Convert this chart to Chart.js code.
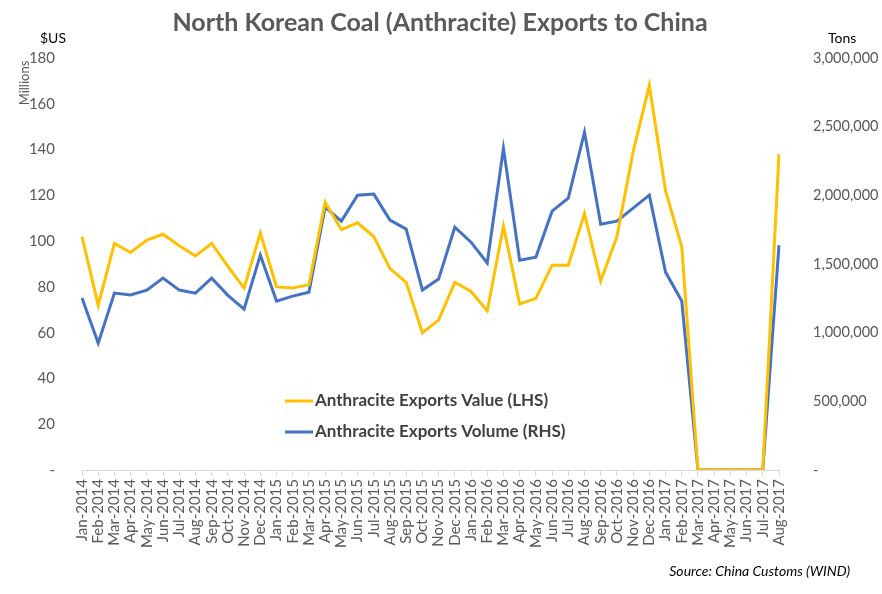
<!DOCTYPE html>
<html><head><meta charset="utf-8">
<script src="https://cdn.jsdelivr.net/npm/chart.js@4.4.0/dist/chart.umd.min.js"></script>
<style>html,body{margin:0;padding:0;background:#fff}#wrap{width:882px;height:594px;position:relative}</style>
</head><body><div id="wrap"><canvas id="c" width="882" height="594"></canvas></div>
<script>
const categories = ["Jan-2014","Feb-2014","Mar-2014","Apr-2014","May-2014","Jun-2014","Jul-2014","Aug-2014","Sep-2014","Oct-2014","Nov-2014","Dec-2014",
"Jan-2015","Feb-2015","Mar-2015","Apr-2015","May-2015","Jun-2015","Jul-2015","Aug-2015","Sep-2015","Oct-2015","Nov-2015","Dec-2015",
"Jan-2016","Feb-2016","Mar-2016","Apr-2016","May-2016","Jun-2016","Jul-2016","Aug-2016","Sep-2016","Oct-2016","Nov-2016","Dec-2016",
"Jan-2017","Feb-2017","Mar-2017","Apr-2017","May-2017","Jun-2017","Jul-2017","Aug-2017"];
const valueLHS = [102,72,99,95,100.5,103,98,93.5,99,89,79.5,103.5,
80,79.5,81,117,105,108,102,88,82,60,65.5,82,
78,69.5,106.5,72.5,75,89.5,89.5,112,82.5,102,139,168,
122,97.5,0,0,0,0,0,138];
const volumeRHS = [1252000,924000,1288000,1274000,1310000,1397000,1310000,1288000,1397000,1272000,1172000,1565000,
1230000,1266000,1295000,1914000,1812000,2001000,2009000,1820000,1754000,1310000,1390000,1768000,
1659000,1507000,2343000,1528000,1550000,1885000,1980000,2460000,1790000,1812000,1907000,2001000,
1441000,1230000,0,0,0,0,0,1638000];
const seriesNames = ["Anthracite Exports Value (LHS)","Anthracite Exports Volume (RHS)"];
const titleText = "North Korean Coal (Anthracite) Exports to China";
const sourceText = "Source: China Customs (WIND)";

const FONT = "Lato, 'Open Sans', sans-serif";
const GRAY = "#595959";

const extras = {
  id: 'extras',
  afterDraw(chart) {
    const ctx = chart.ctx;
    ctx.save();
    ctx.fillStyle = GRAY;
    ctx.font = "bold 25px " + FONT;
    ctx.textAlign = "center"; ctx.textBaseline = "middle";
    ctx.fillText(titleText, 440, 23);
    ctx.fillStyle = "#000";
    ctx.font = "14px " + FONT;
    ctx.textAlign = "left";
    ctx.fillText("$US", 40, 38);
    ctx.fillText("Tons", 828, 38);
    ctx.save();
    ctx.translate(25, 83); ctx.rotate(-Math.PI/2);
    ctx.fillStyle = GRAY; ctx.font = "13px " + FONT; ctx.textAlign = "center";
    ctx.fillText("Millions", 0, 0);
    ctx.restore();
    ctx.fillStyle = "#000";
    ctx.font = "italic 14px " + FONT;
    ctx.textAlign = "right";
    ctx.fillText(sourceText, 850, 571);
    // legend
    const ds = chart.data.datasets;
    const ys = [401, 432];
    ds.forEach((d, i) => {
      ctx.strokeStyle = d.borderColor; ctx.lineWidth = 3;
      ctx.beginPath(); ctx.moveTo(285, ys[i]); ctx.lineTo(313, ys[i]); ctx.stroke();
      ctx.fillStyle = "#404040"; ctx.font = "bold 17px " + FONT; ctx.textAlign = "left";
      ctx.fillText(d.label, 315, ys[i]);
    });
    ctx.restore();
  }
};

new Chart(document.getElementById('c'), {
  type: 'line',
  data: {
    labels: categories,
    datasets: [
      {label: seriesNames[0], data: valueLHS, yAxisID: 'y', borderColor: '#FFC000', backgroundColor: '#FFC000', borderWidth: 3, pointRadius: 0, tension: 0},
      {label: seriesNames[1], data: volumeRHS, yAxisID: 'y1', borderColor: '#4472C4', backgroundColor: '#4472C4', borderWidth: 3, pointRadius: 0, tension: 0}
    ]
  },
  options: {
    responsive: false, animation: false, devicePixelRatio: 1,
    layout: {padding: {top: 58, left: 0, right: 0, bottom: 0}},
    plugins: {legend: {display: false}, title: {display: false}, tooltip: {enabled: false}},
    scales: {
      x: {
        offset: false,
        grid: {display: true, drawOnChartArea: false, drawTicks: true, tickLength: 6, color: '#D9D9D9'},
        border: {display: true, color: '#D9D9D9'},
        ticks: {autoSkip: false, maxRotation: 90, minRotation: 90, color: GRAY, font: {family: FONT, size: 15}, padding: 3},
        afterFit(s) { s.height = 124; }
      },
      y: {
        position: 'left', min: 0, max: 180,
        grid: {display: false}, border: {display: false},
        ticks: {stepSize: 20, color: GRAY, font: {family: FONT, size: 15}, padding: 19,
          callback: v => v === 0 ? '-' : v},
        afterFit(s) { s.width = 82; }
      },
      y1: {
        position: 'right', min: 0, max: 3000000,
        grid: {display: false}, border: {display: false},
        ticks: {stepSize: 500000, color: GRAY, font: {family: FONT, size: 14.5}, padding: 26,
          callback: v => v === 0 ? '-' : v.toLocaleString('en-US')},
        afterFit(s) { s.width = 103; }
      }
    }
  },
  plugins: [extras]
});
</script></body></html>
